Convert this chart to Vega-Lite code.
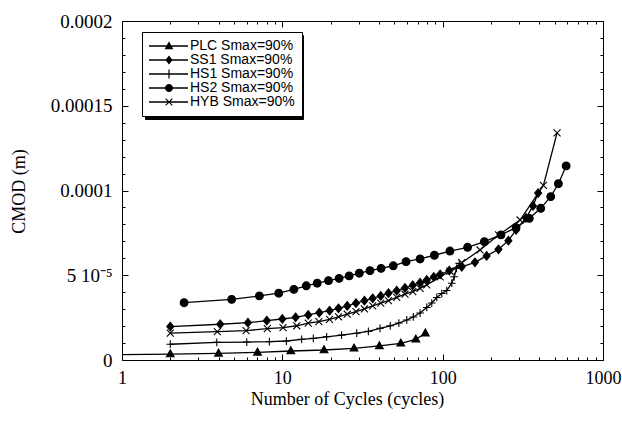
{
  "$schema": "https://vega.github.io/schema/vega-lite/v6.json",
  "width": 481,
  "height": 339,
  "autosize": {"type": "none"},
  "padding": {"left": 122, "top": 21, "right": 19, "bottom": 63},
  "background": "white",
  "config": {
    "view": {"stroke": "black", "strokeWidth": 1},
    "axis": {"grid": false, "domain": false, "labelFlush": false, "tickColor": "black", "tickWidth": 1, "labelColor": "black", "titleColor": "black", "labelFont": "Liberation Serif", "titleFont": "Liberation Serif", "labelFontSize": 18, "titleFontSize": 18, "titleFontWeight": "normal"}
  },
  "datasets": {
    "d": [
      {"series": "PLC Smax=90%", "cycles": 1, "cmod": 3.2e-6},
      {"series": "PLC Smax=90%", "cycles": 2, "cmod": 3.5e-6},
      {"series": "PLC Smax=90%", "cycles": 4, "cmod": 3.9e-6},
      {"series": "PLC Smax=90%", "cycles": 7, "cmod": 4.5e-6},
      {"series": "PLC Smax=90%", "cycles": 11.3, "cmod": 5.3e-6},
      {"series": "PLC Smax=90%", "cycles": 18.2, "cmod": 5.9e-6},
      {"series": "PLC Smax=90%", "cycles": 28, "cmod": 6.9e-6},
      {"series": "PLC Smax=90%", "cycles": 40.3, "cmod": 8.3e-6},
      {"series": "PLC Smax=90%", "cycles": 54.8, "cmod": 9.85e-6},
      {"series": "PLC Smax=90%", "cycles": 68, "cmod": 1.22e-5},
      {"series": "PLC Smax=90%", "cycles": 78, "cmod": 1.58e-5},

      {"series": "SS1 Smax=90%", "cycles": 2, "cmod": 1.97e-5},
      {"series": "SS1 Smax=90%", "cycles": 4.1, "cmod": 2.11e-5},
      {"series": "SS1 Smax=90%", "cycles": 6.1, "cmod": 2.2e-5},
      {"series": "SS1 Smax=90%", "cycles": 8, "cmod": 2.32e-5},
      {"series": "SS1 Smax=90%", "cycles": 10, "cmod": 2.42e-5},
      {"series": "SS1 Smax=90%", "cycles": 12.1, "cmod": 2.52e-5},
      {"series": "SS1 Smax=90%", "cycles": 14.5, "cmod": 2.66e-5},
      {"series": "SS1 Smax=90%", "cycles": 17, "cmod": 2.79e-5},
      {"series": "SS1 Smax=90%", "cycles": 19.7, "cmod": 2.91e-5},
      {"series": "SS1 Smax=90%", "cycles": 22.4, "cmod": 3.05e-5},
      {"series": "SS1 Smax=90%", "cycles": 25.4, "cmod": 3.19e-5},
      {"series": "SS1 Smax=90%", "cycles": 28.8, "cmod": 3.35e-5},
      {"series": "SS1 Smax=90%", "cycles": 32.5, "cmod": 3.5e-5},
      {"series": "SS1 Smax=90%", "cycles": 36.6, "cmod": 3.64e-5},
      {"series": "SS1 Smax=90%", "cycles": 41.1, "cmod": 3.78e-5},
      {"series": "SS1 Smax=90%", "cycles": 45.9, "cmod": 3.94e-5},
      {"series": "SS1 Smax=90%", "cycles": 51.7, "cmod": 4.09e-5},
      {"series": "SS1 Smax=90%", "cycles": 58.2, "cmod": 4.25e-5},
      {"series": "SS1 Smax=90%", "cycles": 65.1, "cmod": 4.41e-5},
      {"series": "SS1 Smax=90%", "cycles": 72.3, "cmod": 4.56e-5},
      {"series": "SS1 Smax=90%", "cycles": 79.6, "cmod": 4.72e-5},
      {"series": "SS1 Smax=90%", "cycles": 88, "cmod": 4.9e-5},
      {"series": "SS1 Smax=90%", "cycles": 96.4, "cmod": 5.05e-5},
      {"series": "SS1 Smax=90%", "cycles": 110, "cmod": 5.28e-5},
      {"series": "SS1 Smax=90%", "cycles": 131.5, "cmod": 5.5e-5},
      {"series": "SS1 Smax=90%", "cycles": 159, "cmod": 5.76e-5},
      {"series": "SS1 Smax=90%", "cycles": 188, "cmod": 6.14e-5},
      {"series": "SS1 Smax=90%", "cycles": 223, "cmod": 6.53e-5},
      {"series": "SS1 Smax=90%", "cycles": 257, "cmod": 7.04e-5},
      {"series": "SS1 Smax=90%", "cycles": 287, "cmod": 7.67e-5},
      {"series": "SS1 Smax=90%", "cycles": 331, "cmod": 8.38e-5},
      {"series": "SS1 Smax=90%", "cycles": 366, "cmod": 9.09e-5},
      {"series": "SS1 Smax=90%", "cycles": 394, "cmod": 9.85e-5},

      {"series": "HS1 Smax=90%", "cycles": 2, "cmod": 9.3e-6},
      {"series": "HS1 Smax=90%", "cycles": 3.9, "cmod": 1.04e-5},
      {"series": "HS1 Smax=90%", "cycles": 6, "cmod": 1.06e-5},
      {"series": "HS1 Smax=90%", "cycles": 8.3, "cmod": 1.08e-5},
      {"series": "HS1 Smax=90%", "cycles": 10.6, "cmod": 1.12e-5},
      {"series": "HS1 Smax=90%", "cycles": 13.2, "cmod": 1.22e-5},
      {"series": "HS1 Smax=90%", "cycles": 15.6, "cmod": 1.28e-5},
      {"series": "HS1 Smax=90%", "cycles": 18.9, "cmod": 1.37e-5},
      {"series": "HS1 Smax=90%", "cycles": 23.4, "cmod": 1.47e-5},
      {"series": "HS1 Smax=90%", "cycles": 29.1, "cmod": 1.58e-5},
      {"series": "HS1 Smax=90%", "cycles": 34.4, "cmod": 1.69e-5},
      {"series": "HS1 Smax=90%", "cycles": 40.7, "cmod": 1.87e-5},
      {"series": "HS1 Smax=90%", "cycles": 47.1, "cmod": 2.02e-5},
      {"series": "HS1 Smax=90%", "cycles": 53.3, "cmod": 2.18e-5},
      {"series": "HS1 Smax=90%", "cycles": 59.7, "cmod": 2.36e-5},
      {"series": "HS1 Smax=90%", "cycles": 65.6, "cmod": 2.54e-5},
      {"series": "HS1 Smax=90%", "cycles": 72.3, "cmod": 2.77e-5},
      {"series": "HS1 Smax=90%", "cycles": 79.6, "cmod": 3.1e-5},
      {"series": "HS1 Smax=90%", "cycles": 85.5, "cmod": 3.36e-5},
      {"series": "HS1 Smax=90%", "cycles": 91.9, "cmod": 3.69e-5},
      {"series": "HS1 Smax=90%", "cycles": 98.7, "cmod": 3.92e-5},
      {"series": "HS1 Smax=90%", "cycles": 106, "cmod": 4.1e-5},
      {"series": "HS1 Smax=90%", "cycles": 114, "cmod": 4.53e-5},
      {"series": "HS1 Smax=90%", "cycles": 118, "cmod": 4.91e-5},
      {"series": "HS1 Smax=90%", "cycles": 122, "cmod": 5.41e-5},
      {"series": "HS1 Smax=90%", "cycles": 127, "cmod": 5.7e-5},

      {"series": "HS2 Smax=90%", "cycles": 2.44, "cmod": 3.38e-5},
      {"series": "HS2 Smax=90%", "cycles": 4.83, "cmod": 3.58e-5},
      {"series": "HS2 Smax=90%", "cycles": 7.19, "cmod": 3.78e-5},
      {"series": "HS2 Smax=90%", "cycles": 9.5, "cmod": 3.94e-5},
      {"series": "HS2 Smax=90%", "cycles": 11.8, "cmod": 4.17e-5},
      {"series": "HS2 Smax=90%", "cycles": 14.1, "cmod": 4.38e-5},
      {"series": "HS2 Smax=90%", "cycles": 16.5, "cmod": 4.53e-5},
      {"series": "HS2 Smax=90%", "cycles": 19.4, "cmod": 4.68e-5},
      {"series": "HS2 Smax=90%", "cycles": 22.6, "cmod": 4.82e-5},
      {"series": "HS2 Smax=90%", "cycles": 26.1, "cmod": 4.96e-5},
      {"series": "HS2 Smax=90%", "cycles": 30.2, "cmod": 5.12e-5},
      {"series": "HS2 Smax=90%", "cycles": 35.2, "cmod": 5.27e-5},
      {"series": "HS2 Smax=90%", "cycles": 41.3, "cmod": 5.41e-5},
      {"series": "HS2 Smax=90%", "cycles": 49.2, "cmod": 5.56e-5},
      {"series": "HS2 Smax=90%", "cycles": 59.1, "cmod": 5.8e-5},
      {"series": "HS2 Smax=90%", "cycles": 72.3, "cmod": 5.96e-5},
      {"series": "HS2 Smax=90%", "cycles": 88.8, "cmod": 6.18e-5},
      {"series": "HS2 Smax=90%", "cycles": 111, "cmod": 6.43e-5},
      {"series": "HS2 Smax=90%", "cycles": 143, "cmod": 6.65e-5},
      {"series": "HS2 Smax=90%", "cycles": 182, "cmod": 6.98e-5},
      {"series": "HS2 Smax=90%", "cycles": 231, "cmod": 7.38e-5},
      {"series": "HS2 Smax=90%", "cycles": 287, "cmod": 7.81e-5},
      {"series": "HS2 Smax=90%", "cycles": 347, "cmod": 8.36e-5},
      {"series": "HS2 Smax=90%", "cycles": 409, "cmod": 8.95e-5},
      {"series": "HS2 Smax=90%", "cycles": 472, "cmod": 9.64e-5},
      {"series": "HS2 Smax=90%", "cycles": 527, "cmod": 1.04e-4},
      {"series": "HS2 Smax=90%", "cycles": 589, "cmod": 1.145e-4},

      {"series": "HYB Smax=90%", "cycles": 2, "cmod": 1.58e-5},
      {"series": "HYB Smax=90%", "cycles": 3.93, "cmod": 1.67e-5},
      {"series": "HYB Smax=90%", "cycles": 5.94, "cmod": 1.73e-5},
      {"series": "HYB Smax=90%", "cycles": 8.06, "cmod": 1.85e-5},
      {"series": "HYB Smax=90%", "cycles": 10.1, "cmod": 1.91e-5},
      {"series": "HYB Smax=90%", "cycles": 12.3, "cmod": 2.02e-5},
      {"series": "HYB Smax=90%", "cycles": 14.5, "cmod": 2.17e-5},
      {"series": "HYB Smax=90%", "cycles": 16.9, "cmod": 2.26e-5},
      {"series": "HYB Smax=90%", "cycles": 19.7, "cmod": 2.4e-5},
      {"series": "HYB Smax=90%", "cycles": 22.4, "cmod": 2.55e-5},
      {"series": "HYB Smax=90%", "cycles": 25.4, "cmod": 2.7e-5},
      {"series": "HYB Smax=90%", "cycles": 28.8, "cmod": 2.85e-5},
      {"series": "HYB Smax=90%", "cycles": 32.5, "cmod": 3.01e-5},
      {"series": "HYB Smax=90%", "cycles": 36.6, "cmod": 3.19e-5},
      {"series": "HYB Smax=90%", "cycles": 41.1, "cmod": 3.35e-5},
      {"series": "HYB Smax=90%", "cycles": 45.9, "cmod": 3.5e-5},
      {"series": "HYB Smax=90%", "cycles": 51.7, "cmod": 3.7e-5},
      {"series": "HYB Smax=90%", "cycles": 58.2, "cmod": 3.88e-5},
      {"series": "HYB Smax=90%", "cycles": 65.1, "cmod": 4.03e-5},
      {"series": "HYB Smax=90%", "cycles": 72.3, "cmod": 4.23e-5},
      {"series": "HYB Smax=90%", "cycles": 79.6, "cmod": 4.43e-5},
      {"series": "HYB Smax=90%", "cycles": 96.4, "cmod": 4.9e-5},
      {"series": "HYB Smax=90%", "cycles": 111, "cmod": 5.25e-5},
      {"series": "HYB Smax=90%", "cycles": 131.5, "cmod": 5.74e-5},
      {"series": "HYB Smax=90%", "cycles": 171, "cmod": 6.49e-5},
      {"series": "HYB Smax=90%", "cycles": 223, "cmod": 7.38e-5},
      {"series": "HYB Smax=90%", "cycles": 304, "cmod": 8.26e-5},
      {"series": "HYB Smax=90%", "cycles": 425, "cmod": 1.03e-4},
      {"series": "HYB Smax=90%", "cycles": 517, "cmod": 1.34e-4}
    ]
  },
  "data": {"name": "d"},
  "layer": [
    {
      "mark": {"type": "line", "color": "black", "strokeWidth": 1.3},
      "encoding": {
        "x": {"field": "cycles", "type": "quantitative",
          "scale": {"type": "log", "domain": [1, 1000], "nice": false},
          "axis": {"orient": "bottom", "values": [1, 10, 100, 1000], "format": "d", "tickSize": -6, "labelPadding": 15,
            "title": "Number of Cycles (cycles)", "titleX": 225, "titleY": 39, "titleBaseline": "middle", "titleAlign": "center"}},
        "y": {"field": "cmod", "type": "quantitative",
          "scale": {"domain": [0, 0.0002], "nice": false, "zero": true},
          "axis": {"orient": "left", "values": [0, 0.00005, 0.0001, 0.00015, 0.0002], "tickSize": -6, "labelPadding": 16, "labelFontSize": 19,
            "labelExpr": "datum.value < 0.00001 ? '0' : datum.value < 0.00006 ? '5 10⁻⁵' : datum.value < 0.00011 ? '0.0001' : datum.value < 0.00016 ? '0.00015' : '0.0002'",
            "title": "CMOD (m)", "titleX": -103, "titleY": 170, "titleBaseline": "middle", "titleAlign": "center"}},
        "detail": {"field": "series"}
      }
    },
    {
      "transform": [{"filter": "datum.cycles > 1.5"}],
      "mark": {"type": "point", "filled": true, "fill": "black", "stroke": "black", "strokeWidth": 1.1, "size": 60, "opacity": 1},
      "encoding": {
        "x": {"field": "cycles", "type": "quantitative",
          "axis": {"orient": "bottom", "values": [2,3,4,5,6,7,8,9,20,30,40,50,60,70,80,90,200,300,400,500,600,700,800,900], "tickSize": -3, "labels": false, "title": null}},
        "y": {"field": "cmod", "type": "quantitative",
          "axis": {"orient": "left", "values": [0.00001,0.00002,0.00003,0.00004,0.00006,0.00007,0.00008,0.00009,0.00011,0.00012,0.00013,0.00014,0.00016,0.00017,0.00018,0.00019], "tickSize": -3, "labels": false, "title": null}},
        "shape": {"field": "series", "type": "nominal",
          "scale": {"domain": ["PLC Smax=90%", "SS1 Smax=90%", "HS1 Smax=90%", "HS2 Smax=90%", "HYB Smax=90%"],
            "range": ["M0,-1.1L1,0.7L-1,0.7Z", "M0,-1.1L0.9,0L0,1.1L-0.9,0Z", "M-1,0H1M0,-1V1", "circle", "M-0.9,-0.9L0.9,0.9M-0.9,0.9L0.9,-0.9"]},
          "legend": null
        }
      }
    },
    {
      "mark": {"type": "point", "opacity": 0},
      "encoding": {
        "x": {"field": "cycles", "type": "quantitative",
          "axis": {"orient": "top", "values": [1, 10, 100, 1000], "tickSize": -6, "labels": false, "title": null}},
        "y": {"field": "cmod", "type": "quantitative",
          "axis": {"orient": "right", "values": [0, 0.00005, 0.0001, 0.00015, 0.0002], "tickSize": -6, "labels": false, "title": null}}
      }
    },
    {
      "mark": {"type": "point", "opacity": 0},
      "encoding": {
        "x": {"field": "cycles", "type": "quantitative",
          "axis": {"orient": "top", "values": [2,3,4,5,6,7,8,9,20,30,40,50,60,70,80,90,200,300,400,500,600,700,800,900], "tickSize": -3, "labels": false, "title": null}},
        "y": {"field": "cmod", "type": "quantitative",
          "axis": {"orient": "right", "values": [0.00001,0.00002,0.00003,0.00004,0.00006,0.00007,0.00008,0.00009,0.00011,0.00012,0.00013,0.00014,0.00016,0.00017,0.00018,0.00019], "tickSize": -3, "labels": false, "title": null}}
      }
    },
    {
      "transform": [{"filter": "datum.cycles < 0"}],
      "mark": {"type": "point", "filled": true, "fill": "black", "strokeWidth": 0, "size": 100, "opacity": 1},
      "encoding": {
        "shape": {"field": "series", "type": "nominal",
          "scale": {"domain": ["PLC Smax=90%", "SS1 Smax=90%", "HS1 Smax=90%", "HS2 Smax=90%", "HYB Smax=90%"],
            "range": ["M-4,-1.3H24.8V1.3H-4Z", "M-4,-1.3H24.8V1.3H-4Z", "M-4,-1.3H24.8V1.3H-4Z", "M-4,-1.3H24.8V1.3H-4Z", "M-4,-1.3H24.8V1.3H-4Z"]},
          "legend": {"orient": "none", "legendX": 23, "legendY": 14, "title": null, "columns": 1,
            "strokeColor": "black", "fillColor": "black", "padding": 7,
            "labelFont": "Liberation Sans", "labelFontSize": 14, "labelColor": "black", "labelAlign": "left", "labelExpr": "''",
            "symbolSize": 100, "symbolOffset": 13, "labelOffset": 14, "rowPadding": -3.4,
            "symbolFillColor": "black", "symbolStrokeWidth": 0}
        }
      }
    },
    {
      "transform": [{"filter": "datum.cycles < 0"}],
      "mark": {"type": "point", "filled": true, "fill": "black", "strokeWidth": 0, "size": 100, "opacity": 1},
      "encoding": {
        "shape": {"field": "series", "type": "nominal",
          "scale": {"domain": ["PLC Smax=90%", "SS1 Smax=90%", "HS1 Smax=90%", "HS2 Smax=90%", "HYB Smax=90%"],
            "range": [
              "M-4,-0.13H3.8V0.13H-4Z M0,-0.95L0.88,0.65L-0.88,0.65Z",
              "M-4,-0.13H3.8V0.13H-4Z M0,-0.9L0.72,0L0,0.9L-0.72,0Z",
              "M-4,-0.13H3.8V0.13H-4Z M-0.12,-0.9H0.12V0.9H-0.12Z",
              "M-4,-0.13H3.8V0.13H-4Z M0.8,0A0.8,0.8 0 1,1 -0.8,0A0.8,0.8 0 1,1 0.8,0Z",
              "M-4,-0.13H3.8V0.13H-4Z M-0.75,-0.6L-0.6,-0.75L0.75,0.6L0.6,0.75Z M-0.75,0.6L0.6,-0.75L0.75,-0.6L-0.6,0.75Z"
            ]},
          "legend": {"orient": "none", "legendX": 20, "legendY": 11, "title": null, "columns": 1,
            "strokeColor": "black", "fillColor": "white", "padding": 7,
            "labelFont": "Liberation Sans", "labelFontSize": 14, "labelColor": "black", "labelAlign": "left",
            "symbolSize": 100, "symbolOffset": 13, "labelOffset": 14, "rowPadding": -3.4,
            "symbolFillColor": "black", "symbolStrokeWidth": 0}
        }
      }
    }
  ],
  "resolve": {
    "axis": {"x": "independent", "y": "independent"},
    "scale": {"shape": "independent"},
    "legend": {"shape": "independent"}
  }
}
